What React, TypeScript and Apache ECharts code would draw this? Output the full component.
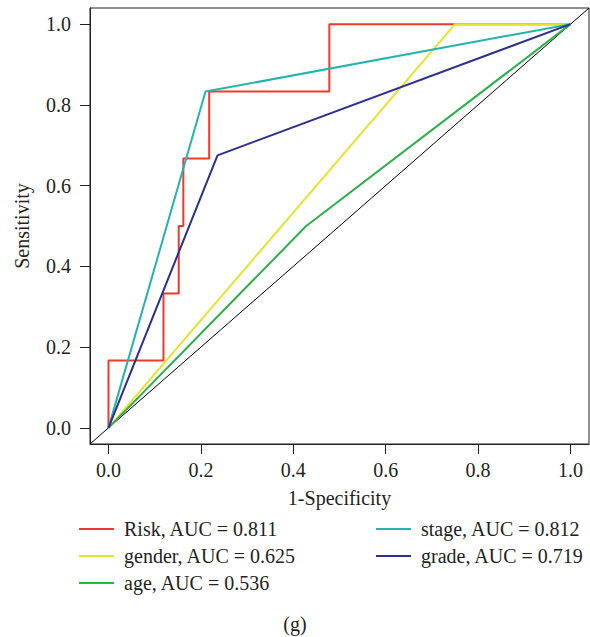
import React, { useEffect, useRef } from "react";
import * as echarts from "echarts";

const seriesNames = [
  "Risk, AUC = 0.811",
  "gender, AUC = 0.625",
  "age, AUC = 0.536",
  "stage, AUC = 0.812",
  "grade, AUC = 0.719",
];
const seriesColors = ["#ec3a2c", "#e4e52a", "#2bb04a", "#23b4ad", "#2d2f8e"];

// ROC points: [1-Specificity, Sensitivity]
const riskROC: [number, number][] = [
  [0, 0], [0, 0.167], [0.119, 0.167], [0.119, 0.333], [0.152, 0.333],
  [0.152, 0.5], [0.162, 0.5], [0.162, 0.667], [0.218, 0.667], [0.218, 0.833],
  [0.478, 0.833], [0.478, 1.0], [1, 1],
];
const genderROC: [number, number][] = [[0, 0], [0.75, 1.0], [1, 1]];
const ageROC: [number, number][] = [[0, 0], [0.428, 0.5], [1, 1]];
const stageROC: [number, number][] = [[0, 0], [0.21, 0.833], [1, 1]];
const gradeROC: [number, number][] = [[0, 0], [0.236, 0.675], [1, 1]];
const diagonal: [number, number][] = [[-0.04, -0.04], [1.04, 1.04]];

const tickValues = [0, 0.2, 0.4, 0.6, 0.8, 1.0];
const legendCol1 = [seriesNames[0], seriesNames[1], seriesNames[2]];
const legendCol2 = [seriesNames[3], seriesNames[4]];

const FONT = "Liberation Serif";
const INK = "#231f20";

export default function App() {
  const ref = useRef<HTMLDivElement>(null);
  useEffect(() => {
    if (!ref.current) return;
    const chart = echarts.init(ref.current, undefined, { renderer: "svg" });
    const curves = [riskROC, genderROC, ageROC, stageROC, gradeROC];
    const axisCommon = {
      type: "value" as const,
      min: -0.04,
      max: 1.04,
      splitLine: { show: false },
      axisLine: { show: true, onZero: false, lineStyle: { color: INK, width: 1 } },
      axisTick: {
        show: true,
        length: 10,
        inside: false,
        customValues: tickValues,
        lineStyle: { color: INK, width: 1 },
      },
      nameLocation: "middle" as const,
      nameTextStyle: { fontFamily: FONT, fontSize: 20, color: INK },
    };
    const legendCommon = {
      orient: "vertical" as const,
      icon: "rect",
      itemWidth: 35,
      itemHeight: 2,
      itemGap: 7,
      padding: 0,
      textStyle: {
        fontFamily: FONT,
        fontSize: 20,
        color: INK,
        lineHeight: 20,
        padding: [0, 0, 0, 5],
      },
    };
    chart.setOption({
      animation: false,
      backgroundColor: "#ffffff",
      title: {
        text: "(g)",
        left: "center",
        top: 613,
        padding: 0,
        textStyle: {
          fontFamily: FONT,
          fontSize: 20,
          lineHeight: 22,
          fontWeight: "normal",
          color: INK,
        },
      },
      grid: {
        left: 90,
        top: 8,
        width: 499,
        height: 436,
        show: true,
        borderColor: INK,
        borderWidth: 1,
        backgroundColor: "transparent",
      },
      legend: [
        { ...legendCommon, data: legendCol1, left: 79, top: 519 },
        { ...legendCommon, data: legendCol2, left: 376, top: 519 },
      ],
      xAxis: {
        ...axisCommon,
        name: "1-Specificity",
        nameGap: 44,
        axisLabel: {
          customValues: tickValues,
          formatter: (v: number) => v.toFixed(1),
          fontFamily: FONT,
          fontSize: 20,
          color: INK,
          margin: 16,
        },
      },
      yAxis: {
        ...axisCommon,
        name: "Sensitivity",
        nameGap: 58,
        axisLabel: {
          customValues: tickValues,
          formatter: (v: number) => v.toFixed(1),
          fontFamily: FONT,
          fontSize: 20,
          color: INK,
          margin: 19,
        },
      },
      series: [
        {
          name: "diagonal",
          type: "line",
          data: diagonal,
          showSymbol: false,
          silent: true,
          lineStyle: { color: "#000000", width: 1 },
          z: 1,
        },
        ...curves.map((d, i) => ({
          name: seriesNames[i],
          type: "line",
          data: d,
          showSymbol: false,
          color: seriesColors[i],
          lineStyle: { color: seriesColors[i], width: 2 },
          itemStyle: { color: seriesColors[i] },
          z: 2 + i,
        })),
      ],
    });
    return () => chart.dispose();
  }, []);
  return (
    <div
      ref={ref}
      style={{ position: "absolute", left: 0, top: 0, width: 590, height: 637 }}
    />
  );
}
